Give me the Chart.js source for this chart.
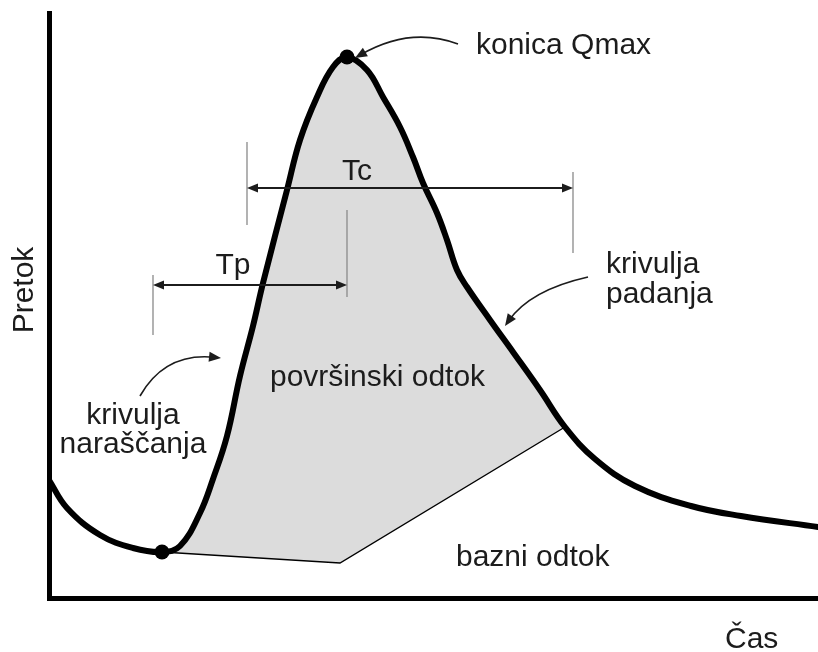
<!DOCTYPE html>
<html>
<head>
<meta charset="utf-8">
<script src="https://cdn.jsdelivr.net/npm/chart.js@4"></script>
<style>
html,body{margin:0;padding:0;background:#fff;}
#wrap{width:818px;height:652px;}
</style>
</head>
<body>
<div id="wrap"><canvas id="c" width="818" height="652"></canvas></div>
<script>
// Hydrograph (time units / flow units)
const timeValues = [0,1.8,5.1,8.4,11.3,13.1,15.1,16.4,17.8,19.1,20.4,21.4,23.8,25.1,26.8,28.4,29.8,31.8,33.4,35.1,36.4,37.4,38.8,39.8,40.8,41.8,44.1,46.4,49.1,51.6,54.6,58.6,64.2,69.2,76.9];
const flowValues = [11.8,9.0,6.3,5.0,4.6,5.2,8.5,11.9,16.2,22.2,27.2,31.5,40.8,45.8,50.1,53.1,54.1,52.8,50.1,47.1,44.1,41.5,38.5,35.8,32.8,31.1,27.8,24.6,20.8,17.1,13.9,11.2,9.2,8.2,7.1];
// Baseflow separation line
const baseTimes = [11.3,29.1,51.6];
const baseFlows = [4.6,3.5,17.1];
// Marked points: start of rise, peak (Qmax)
const markTimes = [11.3,29.8];
const markFlows = [4.6,54.1];
// Time spans Tp and Tc
const tpSpan = {label:'Tp', start:10.4, end:29.8, level:31.3, startTick:[26.3,32.3], endTick:[30.1,38.8], labelAt:[18.4,33.5]};
const tcSpan = {label:'Tc', start:19.8, end:52.4, level:41.0, startTick:[37.3,45.6], endTick:[34.5,42.6], labelAt:[30.8,42.9]};
// Text labels [text, x, y, align]
const labels = [
  ['konica Qmax', 42.7, 54.4, 'left'],
  ['krivulja', 8.4, 17.4, 'center'],
  ['naraščanja', 8.4, 14.5, 'center'],
  ['površinski odtok', 22.1, 21.2, 'left'],
  ['krivulja', 55.7, 32.5, 'left'],
  ['padanja', 55.7, 29.5, 'left'],
  ['bazni odtok', 40.7, 3.2, 'left'],
  ['Čas', 67.6, -5.0, 'left']
];
const yTitle = ['Pretok', -1.6, 30.8];
// Curved pointer arrows: start, control, tip
const pointers = [
  [[40.9,55.4],[36.1,57.2],[30.6,54.0]],
  [[9.1,20.2],[11.6,24.6],[17.2,24.0]],
  [[53.9,32.1],[48.1,30.8],[45.6,27.2]]
];

const FONT = '30px "Liberation Sans", Arial, sans-serif';
const INK = '#1c1c1c';

function head(ctx, x, y, ang, len, w){
  ctx.beginPath();
  ctx.moveTo(x, y);
  ctx.lineTo(x - len*Math.cos(ang) + w*Math.sin(ang), y - len*Math.sin(ang) - w*Math.cos(ang));
  ctx.lineTo(x - len*Math.cos(ang) - w*Math.sin(ang), y - len*Math.sin(ang) + w*Math.cos(ang));
  ctx.closePath();
  ctx.fill();
}

const annot = {
  id: 'annot',
  afterDatasetsDraw(chart){
    const ctx = chart.ctx, sx = chart.scales.x, sy = chart.scales.y;
    const X = v => sx.getPixelForValue(v), Y = v => sy.getPixelForValue(v);
    ctx.save();
    [tpSpan, tcSpan].forEach(s => {
      ctx.strokeStyle = '#8a8a8a'; ctx.lineWidth = 1.3;
      ctx.beginPath();
      ctx.moveTo(X(s.start), Y(s.startTick[0])); ctx.lineTo(X(s.start), Y(s.startTick[1]));
      ctx.moveTo(X(s.end), Y(s.endTick[0])); ctx.lineTo(X(s.end), Y(s.endTick[1]));
      ctx.stroke();
      ctx.strokeStyle = INK; ctx.fillStyle = INK; ctx.lineWidth = 2;
      const yy = Y(s.level), x1 = X(s.start), x2 = X(s.end);
      ctx.beginPath(); ctx.moveTo(x1+4, yy); ctx.lineTo(x2-4, yy); ctx.stroke();
      head(ctx, x1, yy, Math.PI, 11, 4.5);
      head(ctx, x2, yy, 0, 11, 4.5);
      ctx.font = FONT; ctx.textAlign = 'center'; ctx.textBaseline = 'alphabetic';
      ctx.fillText(s.label, X(s.labelAt[0]), Y(s.labelAt[1]) + 11);
    });
    ctx.strokeStyle = INK; ctx.fillStyle = INK; ctx.lineWidth = 1.6;
    pointers.forEach(p => {
      const a = [X(p[0][0]), Y(p[0][1])], c = [X(p[1][0]), Y(p[1][1])], t = [X(p[2][0]), Y(p[2][1])];
      const ang = Math.atan2(t[1]-c[1], t[0]-c[0]);
      ctx.beginPath(); ctx.moveTo(a[0], a[1]);
      ctx.quadraticCurveTo(c[0], c[1], t[0] - 6*Math.cos(ang), t[1] - 6*Math.sin(ang));
      ctx.stroke();
      head(ctx, t[0], t[1], ang, 12, 5);
    });
    ctx.font = FONT; ctx.fillStyle = INK; ctx.textBaseline = 'alphabetic';
    labels.forEach(l => {
      ctx.textAlign = l[3];
      ctx.fillText(l[0], X(l[1]), Y(l[2]));
    });
    ctx.translate(X(yTitle[1]), Y(yTitle[2]));
    ctx.rotate(-Math.PI/2);
    ctx.textAlign = 'center';
    ctx.fillText(yTitle[0], 0, 0);
    ctx.restore();
  }
};

const curve = timeValues.map((t,i) => ({x:t, y:flowValues[i]}));
const base = baseTimes.map((t,i) => ({x:t, y:baseFlows[i]}));
const marks = markTimes.map((t,i) => ({x:t, y:markFlows[i]}));

new Chart(document.getElementById('c'), {
  type: 'scatter',
  data: {
    datasets: [
      {data: curve, showLine: true, borderColor: '#000', borderWidth: 6, pointRadius: 0,
       tension: 0.4, borderJoinStyle: 'round', borderCapStyle: 'round',
       fill: 1, backgroundColor: '#dcdcdc', order: 2},
      {data: base, showLine: true, borderColor: '#000', borderWidth: 1.4, pointRadius: 0, tension: 0, fill: false, order: 1},
      {data: marks, showLine: false, pointRadius: 7.5, pointBackgroundColor: '#000', pointBorderWidth: 0, order: 0}
    ]
  },
  options: {
    responsive: false,
    devicePixelRatio: 1,
    animation: false,
    events: [],
    layout: {autoPadding: false, padding: {left: 49, top: 13, right: 0, bottom: 54}},
    plugins: {legend: {display: false}, tooltip: {enabled: false}},
    scales: {
      x: {type: 'linear', min: 0, max: 76.9, grid: {display: false, drawTicks: false}, ticks: {display: false},
          border: {display: true, color: '#000', width: 5}},
      y: {type: 'linear', min: 0, max: 58.5, grid: {display: false, drawTicks: false}, ticks: {display: false},
          border: {display: true, color: '#000', width: 5}}
    }
  },
  plugins: [annot]
});
</script>
</body>
</html>
